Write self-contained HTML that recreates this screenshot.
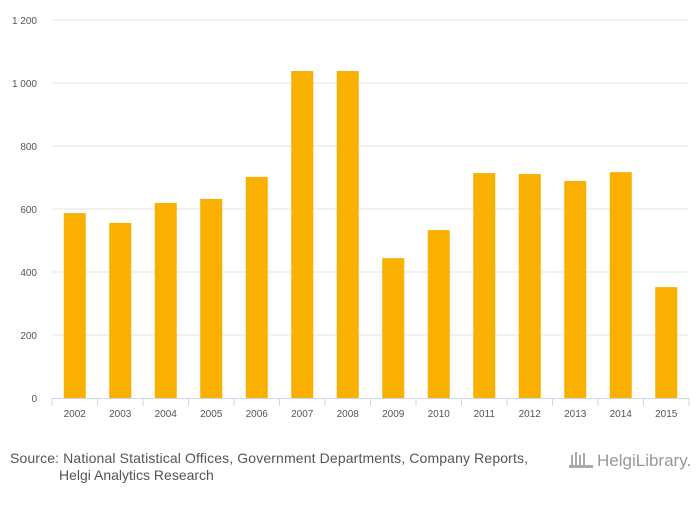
<!DOCTYPE html>
<html><head><meta charset="utf-8"><style>
body{margin:0;background:#fff;font-family:"Liberation Sans",sans-serif}
svg text{font-family:"Liberation Sans",sans-serif}
</style></head><body>
<svg width="700" height="500">
<rect width="700" height="500" fill="#fff"/>
<g id="grid"></g><g id="bars"></g><g id="xaxis"></g>
<text x="10" y="463" font-size="14" fill="#555" textLength="518">Source: National Statistical Offices, Government Departments, Company Reports,</text>
<text x="59" y="480" font-size="14" fill="#555">Helgi Analytics Research</text>
<text x="597" y="466" font-size="17" fill="#999">HelgiLibrary.</text>
<g fill="#aaa"><rect x="571" y="455" width="2" height="12"/><rect x="575" y="452" width="2" height="15"/><rect x="579" y="455" width="2" height="12"/><rect x="583" y="453" width="2" height="14"/><rect x="569" y="465" width="24" height="3"/></g>
</svg>
<script>
const categories=["2002","2003","2004","2005","2006","2007","2008","2009","2010","2011","2012","2013","2014","2015"];
const values=[587,556,619,632,702,1038,1038,444,533,714,711,689,717,352];
const yTicks=[0,200,400,600,800,1000,1200];
const yTickLabels=["0","200","400","600","800","1 000","1 200"];
const NS="http://www.w3.org/2000/svg";
const x0=52,x1=689,y0=398,y1=20,yMax=1200;
const slot=(x1-x0)/categories.length;
const y=v=>y0-(v/yMax)*(y0-y1);
const xc=i=>x0+slot*(i+0.5);
function mk(t,a,p){const e=document.createElementNS(NS,t);for(const k in a)e.setAttribute(k,a[k]);p.appendChild(e);return e;}
const grid=document.getElementById('grid');
yTicks.forEach((v,i)=>{
 if(v>0){const l=mk('line',{x1:x0,x2:x1,y1:y(v),y2:y(v),stroke:'#e6e6e6'},grid);
 
 }
 const t=mk('text',{x:37,y:y(v)+4,'font-size':10,fill:'#555','text-anchor':'end'},grid);
 t.textContent=yTickLabels[i];
 
 
});
const bars=document.getElementById('bars');
values.forEach((v,i)=>{
 const r=mk('rect',{x:xc(i)-11,y:y(v),width:22,height:y0-y(v),fill:'#f9b000'},bars);
 
 
});
const xa=document.getElementById('xaxis');
const al=mk('line',{x1:x0,x2:x1,y1:y0+0.5,y2:y0+0.5,stroke:'#ccd6eb'},xa);


for(let i=0;i<=categories.length;i++){
 const tk=mk('line',{x1:x0+slot*i,x2:x0+slot*i,y1:y0,y2:y0+8,stroke:'#ccd6eb'},xa);
 
 
}
categories.forEach((c,i)=>{
 const t=mk('text',{x:xc(i),y:417,'font-size':10,fill:'#555','text-anchor':'middle'},xa);
 t.textContent=c;
 
 
});
</script>
</body></html>
